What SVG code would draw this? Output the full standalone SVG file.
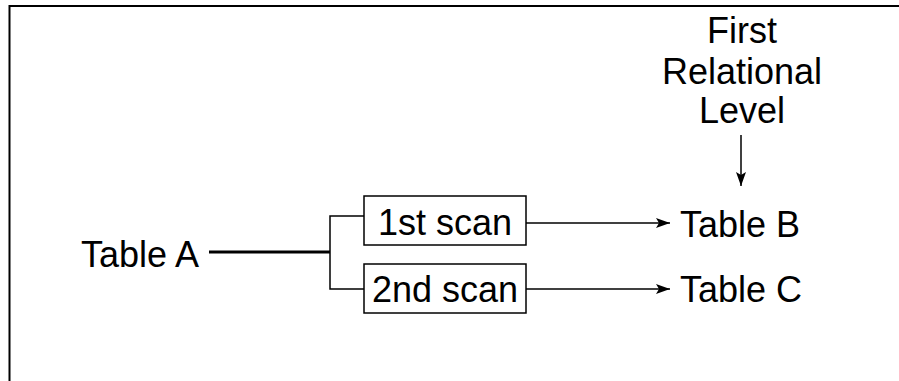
<svg xmlns="http://www.w3.org/2000/svg" width="899" height="381" viewBox="0 0 899 381">
<style>
text{font-family:"Liberation Sans",Arial,sans-serif;font-size:36px;fill:#000}
.box{fill:#fff;stroke:#000;stroke-width:1.5}
.ln{fill:none;stroke:#000;stroke-width:1.5}
</style>
<defs>
<marker id="ah" viewBox="0 0 14 10" refX="14" refY="5" markerWidth="14" markerHeight="10" markerUnits="userSpaceOnUse" orient="auto">
<path d="M0,0 L14,5 L0,10 L3,5 Z" fill="#000"/>
</marker>
</defs>
<rect width="899" height="381" fill="#fff"/>
<polyline points="9.5,381 9.5,6 899,6" fill="none" stroke="#000" stroke-width="2"/>
<g id="connectors">
<line x1="209" y1="252" x2="330" y2="252" stroke="#000" stroke-width="3"/>
<polyline class="ln" points="364,216 330,216 330,289 364,289"/>
<line class="ln" x1="526" y1="223" x2="670" y2="223" marker-end="url(#ah)"/>
<line class="ln" x1="526" y1="289" x2="670" y2="289" marker-end="url(#ah)"/>
<line class="ln" x1="741" y1="135" x2="741" y2="186" marker-end="url(#ah)"/>
</g>
<g id="tableA"><text x="81" y="267">Table A</text></g>
<g id="scan1"><rect class="box" x="364" y="196" width="162" height="49"/><text x="445" y="235" text-anchor="middle">1st scan</text></g>
<g id="scan2"><rect class="box" x="364" y="264" width="162" height="49"/><text x="445" y="302" text-anchor="middle">2nd scan</text></g>
<g id="tableB"><text x="680" y="237">Table B</text></g>
<g id="tableC"><text x="680" y="302">Table C</text></g>
<g id="level"><text text-anchor="middle"><tspan x="742" y="43">First</tspan><tspan x="742" y="84">Relational</tspan><tspan x="742" y="123">Level</tspan></text></g>
</svg>
